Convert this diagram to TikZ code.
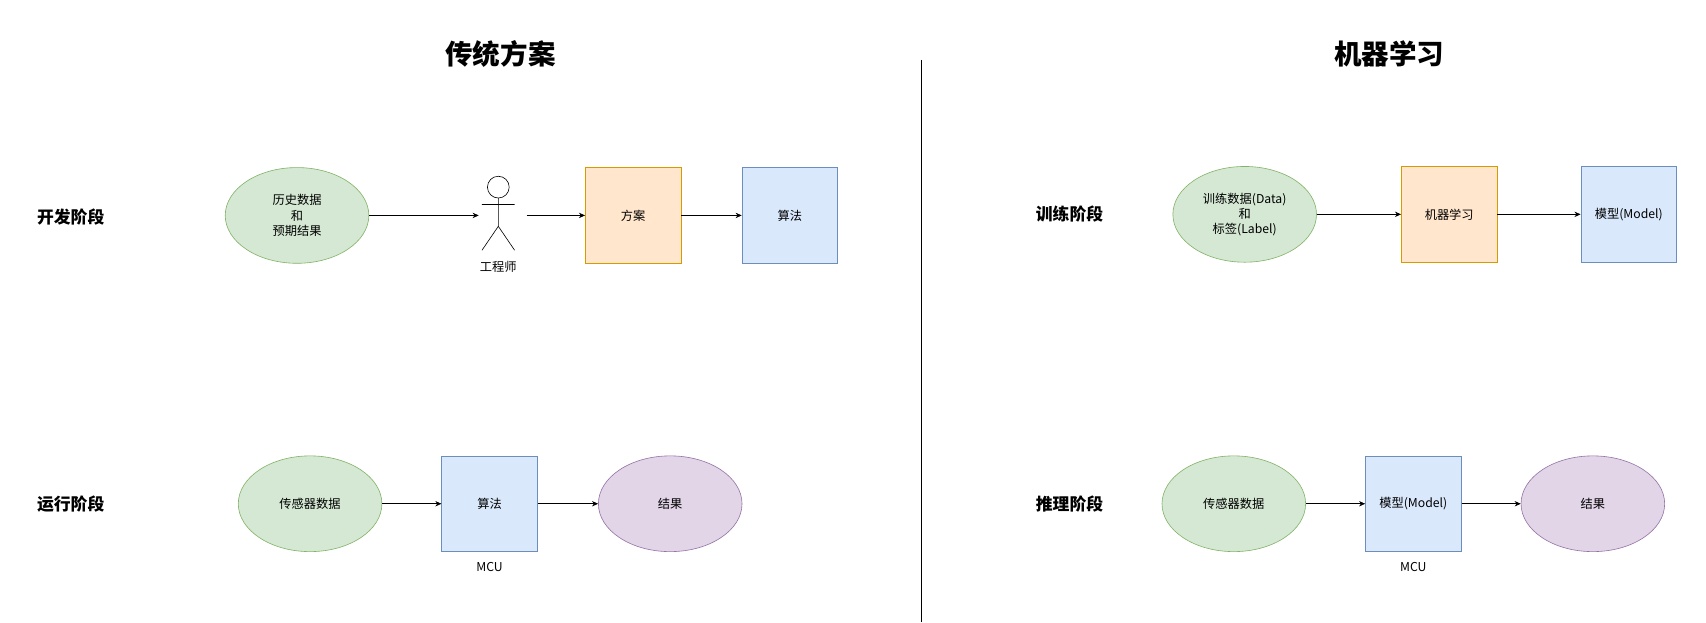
\documentclass[tikz,border=0pt]{standalone}
\usepackage{fontspec}
\setmainfont{Noto Sans CJK SC}
\usetikzlibrary{shapes.geometric,arrows.meta}
\begin{document}
\begin{tikzpicture}[x=0.05cm,y=-0.05cm,
  txt/.style={font=\fontsize{16}{20}\selectfont},
  ell/.style={ellipse,draw,line width=0.8pt,minimum width=6.6cm,minimum height=4.4cm,inner sep=0,align=center,txt},
  gre/.style={ell,fill=green!0,fill={rgb,255:red,213;green,232;blue,212},draw={rgb,255:red,130;green,179;blue,102}},
  pur/.style={ell,fill={rgb,255:red,225;green,213;blue,231},draw={rgb,255:red,150;green,115;blue,166}},
  sq/.style={draw,line width=0.8pt,minimum width=4.4cm,minimum height=4.4cm,inner sep=0,align=center,txt},
  ora/.style={sq,fill={rgb,255:red,255;green,230;blue,204},draw={rgb,255:red,215;green,155;blue,0}},
  blu/.style={sq,fill={rgb,255:red,218;green,232;blue,252},draw={rgb,255:red,108;green,142;blue,191}},
  arr/.style={-{Stealth[length=8pt,width=7pt]},line width=0.8pt},
  ttl/.style={font=\fontsize{36}{40}\selectfont\bfseries},
  lab/.style={font=\fontsize{22}{26}\selectfont\bfseries}]
\useasboundingbox (0,0) rectangle (1568,572);
\node[ttl] (t1) at (460,50) {传统方案};
\node[ttl] (t2) at (1277,50) {机器学习};
\draw[line width=1.5pt] (847,55) -- (847,572);
\node[lab] (l1) at (65,199) {开发阶段};
\node[lab] (l2) at (65,463) {运行阶段};
\node[lab] (l3) at (983,197) {训练阶段};
\node[lab] (l4) at (983,463) {推理阶段};
% left top
\node[gre] (hist) at (273,198) {历史数据\\和\\预期结果};
\draw[line width=0.8pt] (458,172) circle (10);
\draw[line width=0.8pt] (458,182) -- (458,208) (443,188) -- (473,188) (443,230) -- (458,208) -- (473,230);
\node[txt] (eng) at (458,245) {工程师};
\coordinate (engin) at (440,198);
\coordinate (engout) at (484,198);
\node[ora] (plan) at (582,198) {方案};
\node[blu] (alg1) at (726,198) {算法};
\draw[arr] (hist) -- (engin);
\draw[arr] (engout) -- (plan);
\draw[arr] (plan) -- (alg1);
% left bottom
\node[gre] (sens1) at (285,463) {传感器数据};
\node[blu] (alg2) at (450,463) {算法};
\node[txt] (mcu1) at (450,521) {MCU};
\node[pur] (res1) at (616,463) {结果};
\draw[arr] (sens1) -- (alg2);
\draw[arr] (alg2) -- (res1);
% right top
\node[gre] (train) at (1144,197) {训练数据(Data)\\和\\标签(Label)};
\node[ora] (ml) at (1332,197) {机器学习};
\node[blu] (model1) at (1497,197) {模型(Model)};
\draw[arr] (train) -- (ml);
\draw[arr] (ml) -- (model1);
% right bottom
\node[gre] (sens2) at (1134,463) {传感器数据};
\node[blu] (model2) at (1299,463) {模型(Model)};
\node[txt] (mcu2) at (1299,521) {MCU};
\node[pur] (res2) at (1464,463) {结果};
\draw[arr] (sens2) -- (model2);
\draw[arr] (model2) -- (res2);
\end{tikzpicture}
\end{document}
